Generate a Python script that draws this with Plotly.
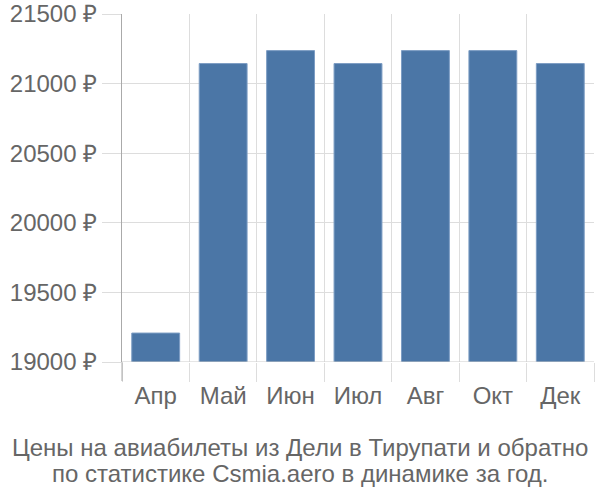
import plotly.graph_objects as go

months = ["Апр", "Май", "Июн", "Июл", "Авг", "Окт", "Дек"]
prices = [19208, 21144, 21237, 21144, 21237, 21237, 21144]
y_ticks = [19000, 19500, 20000, 20500, 21000, 21500]
y_tick_labels = [f"{v} ₽" for v in y_ticks]
title_lines = [
    "Цены на авиабилеты из Дели в Тирупати и обратно",
    "по статистике Csmia.aero в динамике за год.",
]
title_centers_y = [447, 473]

font_family = "Liberation Sans, Arial, sans-serif"
text_color = "#666666"
FS = 24

fig = go.Figure(
    go.Bar(
        x=months,
        y=prices,
        marker=dict(color="#4b76a6", line=dict(color="#7d9dc4", width=1)),
        width=0.71,
    )
)

fig.update_layout(
    width=600,
    height=500,
    margin=dict(l=122, r=6, t=14, b=138),
    plot_bgcolor="white",
    paper_bgcolor="white",
    showlegend=False,
    font=dict(family=font_family, size=FS, color=text_color),
)

for line, cy in zip(title_lines, title_centers_y):
    fig.add_annotation(
        text=line,
        xref="paper",
        yref="paper",
        x=(300 - 122) / 472,
        y=-(cy - 362) / 348,
        xanchor="center",
        yanchor="middle",
        showarrow=False,
        font=dict(family=font_family, size=FS, color=text_color),
    )

fig.update_xaxes(
    type="category",
    tickson="boundaries",
    showgrid=True,
    gridcolor="#dddddd",
    gridwidth=1,
    ticks="outside",
    ticklen=19,
    tickcolor="#dddddd",
    tickwidth=1,
    showline=False,
    automargin=False,
    ticklabelstandoff=17,
    tickfont=dict(size=FS, color=text_color),
)

fig.update_yaxes(
    range=[19000, 21500],
    tickvals=y_ticks,
    ticktext=y_tick_labels,
    showgrid=True,
    gridcolor="#dddddd",
    gridwidth=1,
    ticks="outside",
    ticklen=19,
    tickcolor="#dddddd",
    showline=True,
    linecolor="#aaaaaa",
    linewidth=1,
    zeroline=False,
    automargin=False,
    tickfont=dict(size=FS, color=text_color),
)

fig.add_shape(
    type="line",
    xref="paper",
    yref="paper",
    x0=0, x1=0,
    y0=0, y1=-19 / 348,
    line=dict(color="#aaaaaa", width=1),
)
fig.add_shape(
    type="line",
    xref="paper",
    yref="y",
    x0=0, x1=1,
    y0=19000, y1=19000,
    line=dict(color="#cccccc", width=1),
)

fig.write_html("out.html")
